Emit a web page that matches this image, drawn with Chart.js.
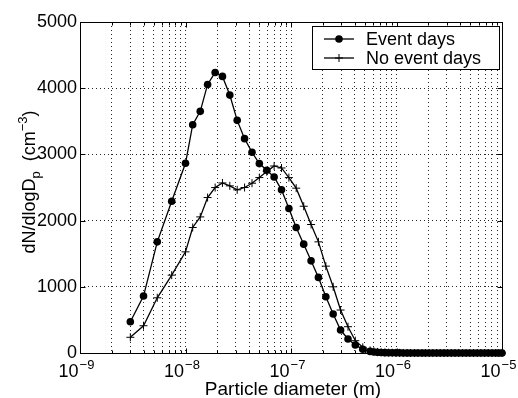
<!DOCTYPE html>
<html>
<head>
<meta charset="utf-8">
<script src="https://cdn.jsdelivr.net/npm/chart.js@4.4.0/dist/chart.umd.min.js"></script>
<style>
  html, body { margin: 0; padding: 0; background: #fff; }
  #grafico { display: block; }
</style>
</head>
<body>
<canvas id="grafico" width="518" height="398"></canvas>
<script>
// Diámetros de partícula (m); por encima de ~0.5 µm los canales son más finos
var diametros = [
    3.0e-9, 4.0e-9, 5.4e-9, 7.4e-9,
    1.0e-8, 1.17e-8, 1.38e-8, 1.62e-8, 1.91e-8, 2.24e-8, 2.63e-8, 3.09e-8, 3.63e-8, 4.27e-8,
    5.01e-8, 5.89e-8, 6.92e-8, 8.13e-8, 9.55e-8,
    1.12e-7, 1.32e-7, 1.55e-7, 1.82e-7, 2.14e-7, 2.51e-7, 2.95e-7, 3.47e-7, 4.07e-7, 4.79e-7,
    5.62e-7, 6.10e-7, 6.61e-7, 7.16e-7, 7.76e-7, 8.41e-7, 9.12e-7, 9.89e-7,
    1.07e-6, 1.16e-6, 1.26e-6, 1.36e-6, 1.48e-6, 1.60e-6, 1.74e-6, 1.88e-6, 2.04e-6, 2.21e-6,
    2.40e-6, 2.60e-6, 2.82e-6, 3.05e-6, 3.31e-6, 3.59e-6, 3.89e-6, 4.22e-6, 4.57e-6, 4.95e-6,
    5.37e-6, 5.82e-6, 6.31e-6, 6.84e-6, 7.41e-6, 8.04e-6, 8.71e-6, 9.33e-6, 1.0e-5
];

// dN/dlogDp (cm^-3) para días con evento
var diasEvento = [
    472, 860, 1679, 2292,
    2866, 3449, 3650, 4057, 4238, 4178, 3896, 3514, 3238, 3032,
    2861, 2760, 2659, 2465, 2182,
    1896, 1644, 1392, 1142, 849, 588, 347, 211, 121, 56,
    24, 16, 10, 7, 5, 4, 3, 2,
    2, 1, 1, 1, 1, 0, 0, 0, 0, 0,
    0, 0, 0, 0, 0, 0, 0, 0, 0, 0,
    0, 0, 0, 0, 0, 0, 0, 0, 0
];

// dN/dlogDp (cm^-3) para días sin evento
var diasSinEvento = [
    237, 412, 834, 1176,
    1528, 1896, 2056, 2348, 2499, 2569, 2525, 2465, 2500, 2565,
    2650, 2740, 2825, 2795, 2650,
    2490, 2217, 1941, 1679, 1312, 1000, 649, 397, 186, 86,
    38, 25, 16, 10, 7, 5, 4, 3,
    2, 1, 1, 0, 0, 0, 0, 0, 0, 0,
    0, 0, 0, 0, 0, 0, 0, 0, 0, 0,
    0, 0, 0, 0, 0, 0, 0, 0, 0
];

var nombresSeries = ['Event days', 'No event days'];

// Décadas del eje x y sus exponentes
var decadas = [1e-9, 1e-8, 1e-7, 1e-6, 1e-5];
var exponentes = ['\u22129', '\u22128', '\u22127', '\u22126', '\u22125'];
var divisionesMenores = [2, 3, 4, 5, 6, 7, 8, 9];

// Marcas del eje y
var marcasY = [0, 1000, 2000, 3000, 4000, 5000];

var FUENTE = '"Liberation Sans", Arial, Helvetica, sans-serif';

function puntos(valores) {
    return diametros.map(function (d, i) { return { x: d, y: valores[i] }; });
}

// Valores donde van las líneas de rejilla del eje logarítmico
var rejillaX = [];
decadas.forEach(function (d, i) {
    rejillaX.push(d);
    if (i < decadas.length - 1) {
        divisionesMenores.forEach(function (m) { rejillaX.push(d * m); });
    }
});

function fuente(tam) { return tam + 'px ' + FUENTE; }

// Caja, marcas interiores, etiquetas y leyenda al estilo MATLAB
var marcoMatlab = {
    id: 'marcoMatlab',
    beforeDatasetsDraw: function (chart) {
        var ctx = chart.ctx;
        var a = chart.chartArea;
        var ejeX = chart.scales.x, ejeY = chart.scales.y;
        var izq = Math.round(a.left) + 0.5, der = Math.round(a.right) + 0.5;
        var arr = Math.round(a.top) + 0.5, aba = Math.round(a.bottom) + 0.5;

        ctx.save();
        ctx.strokeStyle = '#000';
        ctx.lineWidth = 1;

        // marcas del eje x (hacia dentro, arriba y abajo)
        ctx.beginPath();
        rejillaX.forEach(function (v) {
            var px = Math.round(ejeX.getPixelForValue(v)) + 0.5;
            var largo = decadas.indexOf(v) >= 0 ? 5 : 3;
            ctx.moveTo(px, aba); ctx.lineTo(px, aba - largo);
            ctx.moveTo(px, arr); ctx.lineTo(px, arr + largo);
        });
        // marcas del eje y
        marcasY.forEach(function (v) {
            var py = Math.round(ejeY.getPixelForValue(v)) + 0.5;
            ctx.moveTo(izq, py); ctx.lineTo(izq + 5, py);
            ctx.moveTo(der, py); ctx.lineTo(der - 5, py);
        });
        ctx.stroke();

        // caja
        ctx.strokeRect(izq, arr, der - izq, aba - arr);
        ctx.restore();
    },
    afterDraw: function (chart) {
        var ctx = chart.ctx;
        var a = chart.chartArea;
        var ejeX = chart.scales.x, ejeY = chart.scales.y;

        ctx.save();
        ctx.strokeStyle = '#000';
        ctx.fillStyle = '#000';
        ctx.lineWidth = 1;

        // etiquetas del eje y
        ctx.font = fuente(18);
        ctx.textAlign = 'right';
        ctx.textBaseline = 'middle';
        marcasY.forEach(function (v) {
            ctx.fillText(String(v), a.left - 3, ejeY.getPixelForValue(v));
        });

        // etiquetas del eje x: 10 con exponente
        ctx.textAlign = 'left';
        ctx.textBaseline = 'alphabetic';
        decadas.forEach(function (v, i) {
            var px = ejeX.getPixelForValue(v);
            ctx.font = fuente(18);
            var wBase = ctx.measureText('10').width;
            ctx.font = fuente(13);
            var wExp = ctx.measureText(exponentes[i]).width;
            var x0 = px - (wBase + wExp) / 2 - 4;
            ctx.font = fuente(18);
            ctx.fillText('10', x0, 377);
            ctx.font = fuente(13);
            ctx.fillText(exponentes[i], x0 + wBase + 1, 369);
        });

        // título del eje x
        ctx.font = fuente(19);
        ctx.textAlign = 'center';
        ctx.fillText('Particle diameter (m)', (a.left + a.right) / 2 + 2, 395);

        // título del eje y con subíndice y superíndice
        var partes = [
            { t: 'dN/dlogD', tam: 18, dy: 0 },
            { t: 'p', tam: 13, dy: 5 },
            { t: '  (cm', tam: 18, dy: 0 },
            { t: '\u22123', tam: 13, dy: -8 },
            { t: ')', tam: 18, dy: 0 }
        ];
        var total = 0;
        partes.forEach(function (p) {
            ctx.font = fuente(p.tam);
            p.w = ctx.measureText(p.t).width;
            total += p.w;
        });
        ctx.save();
        ctx.translate(35, 182);
        ctx.rotate(-Math.PI / 2);
        ctx.textAlign = 'left';
        var xx = -total / 2;
        partes.forEach(function (p) {
            ctx.font = fuente(p.tam);
            ctx.fillText(p.t, xx, p.dy);
            xx += p.w;
        });
        ctx.restore();

        // leyenda
        var lx = 312.5, ly = 26.5, lw = 187, lh = 43;
        ctx.fillStyle = '#fff';
        ctx.fillRect(lx, ly, lw, lh);
        ctx.strokeRect(lx, ly, lw, lh);
        ctx.fillStyle = '#000';
        ctx.font = fuente(18);
        ctx.textAlign = 'left';
        ctx.textBaseline = 'middle';
        chart.data.datasets.forEach(function (ds, i) {
            var y = 39 + i * 19;
            ctx.beginPath();
            ctx.lineWidth = ds.borderWidth;
            ctx.moveTo(324, y); ctx.lineTo(354, y);
            ctx.stroke();
            ctx.lineWidth = 1;
            if (ds.pointStyle === 'circle') {
                ctx.beginPath();
                ctx.arc(339, y, ds.pointRadius, 0, Math.PI * 2);
                ctx.fill();
            } else {
                ctx.beginPath();
                ctx.moveTo(339 - ds.pointRadius, y); ctx.lineTo(339 + ds.pointRadius, y);
                ctx.moveTo(339, y - ds.pointRadius); ctx.lineTo(339, y + ds.pointRadius);
                ctx.stroke();
            }
            ctx.fillText(ds.label, 366, y + 1);
        });
        ctx.restore();
    }
};

var ctxGrafico = document.getElementById('grafico').getContext('2d');
var grafico = new Chart(ctxGrafico, {
    type: 'line',
    data: {
        datasets: [{
            label: nombresSeries[0],
            data: puntos(diasEvento),
            borderColor: '#000',
            backgroundColor: '#000',
            borderWidth: 1.3,
            pointStyle: 'circle',
            pointRadius: 3.8,
            pointBorderWidth: 0,
            tension: 0,
            clip: false
        }, {
            label: nombresSeries[1],
            data: puntos(diasSinEvento),
            borderColor: '#000',
            backgroundColor: '#000',
            borderWidth: 1.3,
            pointStyle: 'cross',
            pointRadius: 4,
            pointBorderWidth: 1,
            tension: 0,
            clip: false
        }]
    },
    options: {
        responsive: false,
        animation: false,
        devicePixelRatio: 1,
        layout: { padding: { top: 22, right: 16, left: 0, bottom: 0 } },
        plugins: {
            legend: { display: false },
            tooltip: { enabled: false }
        },
        scales: {
            x: {
                type: 'logarithmic',
                min: 1e-9,
                max: 1e-5,
                afterBuildTicks: function (eje) {
                    eje.ticks = rejillaX.map(function (v) { return { value: v }; });
                },
                afterFit: function (eje) { eje.height = 45; },
                ticks: { display: false },
                grid: { color: 'rgba(0,0,0,0.85)', lineWidth: 1, drawTicks: false },
                border: { display: false, dash: [1, 3] }
            },
            y: {
                min: 0,
                max: 5000,
                afterBuildTicks: function (eje) {
                    eje.ticks = marcasY.map(function (v) { return { value: v }; });
                },
                afterFit: function (eje) { eje.width = 80; },
                ticks: { display: false },
                grid: { color: 'rgba(0,0,0,0.85)', lineWidth: 1, drawTicks: false },
                border: { display: false, dash: [1, 3] }
            }
        }
    },
    plugins: [marcoMatlab]
});
</script>
</body>
</html>
